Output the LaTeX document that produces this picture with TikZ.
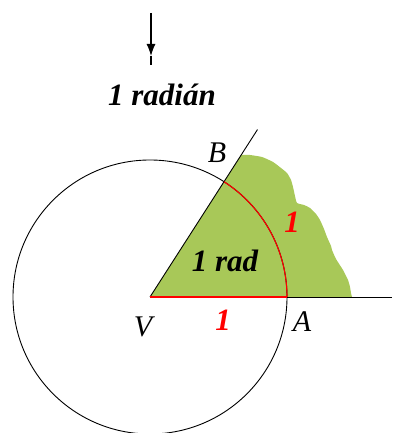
\documentclass[tikz,border=0pt]{standalone}
\usepackage{xcolor}
\usepackage{fontspec}
\setmainfont{Liberation Serif}
\usetikzlibrary{arrows.meta}

\definecolor{leaf}{RGB}{168,200,88}

\begin{document}
\begin{tikzpicture}[x=1pt,y=1pt,
    lbl/.style={font=\fontsize{30}{32}\selectfont\itshape},
    bold lbl/.style={font=\fontsize{31}{33}\selectfont\bfseries\itshape},
    unit/.style={bold lbl, text=red}]

\def\R{137}   % radius of the circle
\def\ang{57.3} % one radian in degrees

\useasboundingbox (-150,-136) rectangle (242,297);

% points
\coordinate (V) at (0,0);
\coordinate (A) at (\R,0);
\coordinate (B) at (\ang:\R);
\coordinate (rayend) at (\ang:199);
\coordinate (lineend) at (242,0);
\coordinate (arrtop) at (1,284);
\coordinate (arrtip) at (1,241);
\coordinate (arrbot) at (1,232);

% green area
\fill[leaf] (V) -- (\ang:169)
    -- plot[smooth, tension=0.35] coordinates {(100,142) (112,140) (123,135)
       (131,129) (137,124) (141,117) (143,110) (145,101) (147,94) (154,92)
       (160,89) (166,83) (170,77) (174,68) (177,60) (181,51) (182,47)
       (186,38) (193,27) (198,17) (200,10) (201,4) (202,0)}
    -- cycle;

% circle
\draw[line width=0.9pt] (V) circle[radius=\R];

% sides
\draw[line width=0.9pt] (V) -- (rayend);
\draw[line width=0.9pt] (A) -- (lineend);
\draw[red, line width=1.1pt] (V) -- (A);
\draw[red, line width=1.1pt] (A) arc[start angle=0, end angle=\ang, radius=\R];

% arrow
\draw[line width=1.2pt, -{Latex[length=12pt,width=9pt]}] (arrtop) -- (arrtip);
\draw[line width=1.2pt] (arrtip) -- (arrbot);

% labels
\node[bold lbl] (title) at (12,202) {1 radián};
\node[lbl] (lB) at (67,144) {B};
\node[lbl] (lV) at (-7,-30) {V};
\node[lbl] (lA) at (152,-25) {A};
\node[bold lbl] (lrad) at (75,36) {1 rad};
\node[unit] (larc) at (142,75) {1};
\node[unit] (lside) at (73,-23) {1};

\end{tikzpicture}
\end{document}
